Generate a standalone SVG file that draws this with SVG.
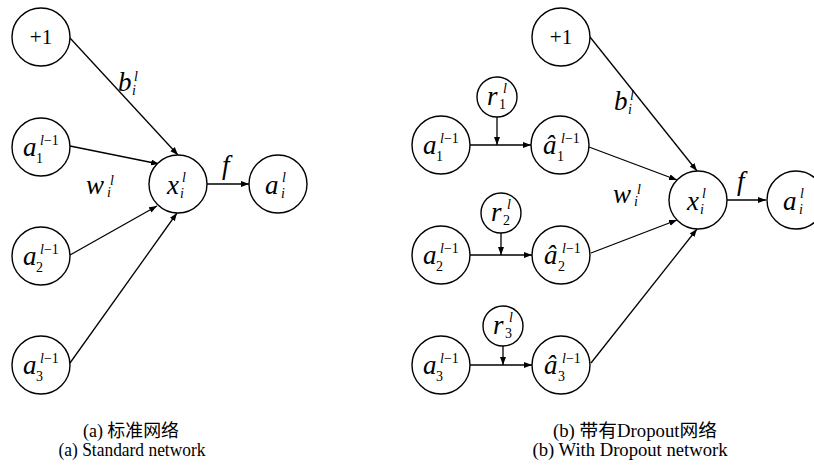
<svg xmlns="http://www.w3.org/2000/svg" width="814" height="467" viewBox="0 0 814 467">
  <style>
    .node { fill: #fff; stroke: #000; stroke-width: 1.4; }
    .edge { fill: none; stroke: #000; stroke-width: 1.3; marker-end: url(#arrow); }
    .m { font-family: "Liberation Serif", "Times New Roman", serif; font-style: italic; font-size: 27px; fill: #000; }
    .s { font-family: "Liberation Serif", "Times New Roman", serif; font-style: italic; font-size: 14px; fill: #000; }
    .d { font-family: "Liberation Serif", "Times New Roman", serif; font-style: normal; font-size: 14px; fill: #000; }
    .up { font-style: normal; }
    .num { font-family: "Liberation Serif", "Times New Roman", serif; font-size: 21px; fill: #000; }
    .cap { font-family: "Liberation Serif", "Noto Sans CJK SC", serif; font-size: 18px; fill: #000; }
  </style>
  <defs>
    <marker id="arrow" markerUnits="userSpaceOnUse" markerWidth="9" markerHeight="7" refX="8" refY="3" orient="auto">
      <path d="M0,0 L8,3 L0,6 z" fill="#000"/>
    </marker>
  </defs>

  <!-- connectors -->
  <g id="connectors">
    <!-- standard network -->
    <line class="edge" x1="70" y1="38" x2="178" y2="155"/>
    <line class="edge" x1="70" y1="146" x2="159" y2="164"/>
    <line class="edge" x1="70" y1="255" x2="157" y2="206"/>
    <line class="edge" x1="70" y1="363" x2="177" y2="213"/>
    <line class="edge" x1="207" y1="184" x2="249" y2="184"/>
    <!-- dropout network -->
    <line class="edge" x1="470" y1="145" x2="531" y2="145"/>
    <line class="edge" x1="497" y1="117" x2="497" y2="145"/>
    <line class="edge" x1="470" y1="255" x2="532" y2="255"/>
    <line class="edge" x1="501" y1="233" x2="501" y2="255"/>
    <line class="edge" x1="470" y1="365" x2="532" y2="365"/>
    <line class="edge" x1="503" y1="346" x2="503" y2="365"/>
    <line class="edge" x1="590" y1="37" x2="697" y2="171"/>
    <line class="edge" x1="589" y1="147" x2="677" y2="180"/>
    <line class="edge" x1="591" y1="253" x2="677" y2="220"/>
    <line class="edge" x1="591" y1="363" x2="697" y2="229"/>
    <line class="edge" x1="727" y1="200" x2="766" y2="200"/>
  </g>

  <!-- edge labels -->
  <g id="edge-labels">
    <text class="m" x="118" y="91">b</text>
    <text class="s" x="134" y="81">l</text>
    <text class="s" x="132" y="95">i</text>
    <text class="m" x="86" y="194">w</text>
    <text class="s" x="110" y="185">l</text>
    <text class="s" x="107" y="197">i</text>
    <text class="m" x="222" y="174">f</text>

    <text class="m" x="614" y="110">b</text>
    <text class="s" x="630" y="100">l</text>
    <text class="s" x="628" y="114">i</text>
    <text class="m" x="613" y="203">w</text>
    <text class="s" x="637" y="194">l</text>
    <text class="s" x="634" y="206">i</text>
    <text class="m" x="737" y="190">f</text>
  </g>

  <!-- standard network nodes -->
  <g id="L-bias">
    <circle class="node" cx="41" cy="37" r="29"/>
    <text class="num" x="41" y="44" text-anchor="middle">+1</text>
  </g>
  <g id="L-a1">
    <circle class="node" cx="41" cy="147" r="29"/>
    <text class="m" x="23" y="156">a</text>
    <text class="s" x="40" y="145">l<tspan class="up">−1</tspan></text>
    <text class="d" x="36" y="163">1</text>
  </g>
  <g id="L-a2">
    <circle class="node" cx="41" cy="256" r="29"/>
    <text class="m" x="23" y="265">a</text>
    <text class="s" x="40" y="254">l<tspan class="up">−1</tspan></text>
    <text class="d" x="36" y="272">2</text>
  </g>
  <g id="L-a3">
    <circle class="node" cx="41" cy="365" r="29"/>
    <text class="m" x="23" y="374">a</text>
    <text class="s" x="40" y="363">l<tspan class="up">−1</tspan></text>
    <text class="d" x="36" y="381">3</text>
  </g>
  <g id="L-x">
    <circle class="node" cx="178" cy="184" r="29"/>
    <text class="m" x="167" y="194">x</text>
    <text class="s" x="182" y="182">l</text>
    <text class="s" x="180" y="198">i</text>
  </g>
  <g id="L-out">
    <circle class="node" cx="278" cy="184" r="29"/>
    <text class="m" x="265" y="194">a</text>
    <text class="s" x="282" y="182">l</text>
    <text class="s" x="281" y="198">i</text>
  </g>

  <!-- dropout network nodes -->
  <g id="R-bias">
    <circle class="node" cx="561" cy="37" r="29"/>
    <text class="num" x="561" y="44" text-anchor="middle">+1</text>
  </g>
  <g id="R-r1">
    <circle class="node" cx="497" cy="97" r="20"/>
    <text class="m" x="487" y="105">r</text>
    <text class="s" x="503" y="93">l</text>
    <text class="d" x="499" y="109">1</text>
  </g>
  <g id="R-r2">
    <circle class="node" cx="501" cy="213" r="20"/>
    <text class="m" x="491" y="221">r</text>
    <text class="s" x="507" y="209">l</text>
    <text class="d" x="503" y="225">2</text>
  </g>
  <g id="R-r3">
    <circle class="node" cx="503" cy="326" r="20"/>
    <text class="m" x="493" y="334">r</text>
    <text class="s" x="509" y="322">l</text>
    <text class="d" x="505" y="338">3</text>
  </g>
  <g id="R-a1">
    <circle class="node" cx="441" cy="145" r="29"/>
    <text class="m" x="423" y="154">a</text>
    <text class="s" x="440" y="143">l<tspan class="up">−1</tspan></text>
    <text class="d" x="436" y="161">1</text>
  </g>
  <g id="R-a2">
    <circle class="node" cx="441" cy="255" r="29"/>
    <text class="m" x="423" y="264">a</text>
    <text class="s" x="440" y="253">l<tspan class="up">−1</tspan></text>
    <text class="d" x="436" y="271">2</text>
  </g>
  <g id="R-a3">
    <circle class="node" cx="441" cy="365" r="29"/>
    <text class="m" x="423" y="374">a</text>
    <text class="s" x="440" y="363">l<tspan class="up">−1</tspan></text>
    <text class="d" x="436" y="381">3</text>
  </g>
  <g id="R-ah1">
    <circle class="node" cx="560" cy="145" r="29"/>
    <text class="m" x="543" y="154">â</text>
    <text class="s" x="561" y="143">l<tspan class="up">−1</tspan></text>
    <text class="d" x="557" y="161">1</text>
  </g>
  <g id="R-ah2">
    <circle class="node" cx="561" cy="255" r="29"/>
    <text class="m" x="544" y="264">â</text>
    <text class="s" x="562" y="253">l<tspan class="up">−1</tspan></text>
    <text class="d" x="558" y="271">2</text>
  </g>
  <g id="R-ah3">
    <circle class="node" cx="561" cy="365" r="29"/>
    <text class="m" x="544" y="374">â</text>
    <text class="s" x="562" y="363">l<tspan class="up">−1</tspan></text>
    <text class="d" x="558" y="381">3</text>
  </g>
  <g id="R-x">
    <circle class="node" cx="698" cy="200" r="29"/>
    <text class="m" x="687" y="210">x</text>
    <text class="s" x="702" y="198">l</text>
    <text class="s" x="700" y="214">i</text>
  </g>
  <g id="R-out">
    <circle class="node" cx="796" cy="200" r="29"/>
    <text class="m" x="783" y="210">a</text>
    <text class="s" x="800" y="198">l</text>
    <text class="s" x="799" y="214">i</text>
  </g>

  <!-- captions -->
  <g id="captions">
    <text class="cap" x="131" y="437" text-anchor="middle" textLength="96" lengthAdjust="spacingAndGlyphs">(a) 标准网络</text>
    <text class="cap" x="132" y="456" text-anchor="middle" textLength="147" lengthAdjust="spacingAndGlyphs">(a) Standard network</text>
    <text class="cap" x="635" y="437" text-anchor="middle" textLength="164" lengthAdjust="spacingAndGlyphs">(b) 带有Dropout网络</text>
    <text class="cap" x="630" y="456" text-anchor="middle" textLength="195" lengthAdjust="spacingAndGlyphs">(b) With Dropout network</text>
  </g>
</svg>
